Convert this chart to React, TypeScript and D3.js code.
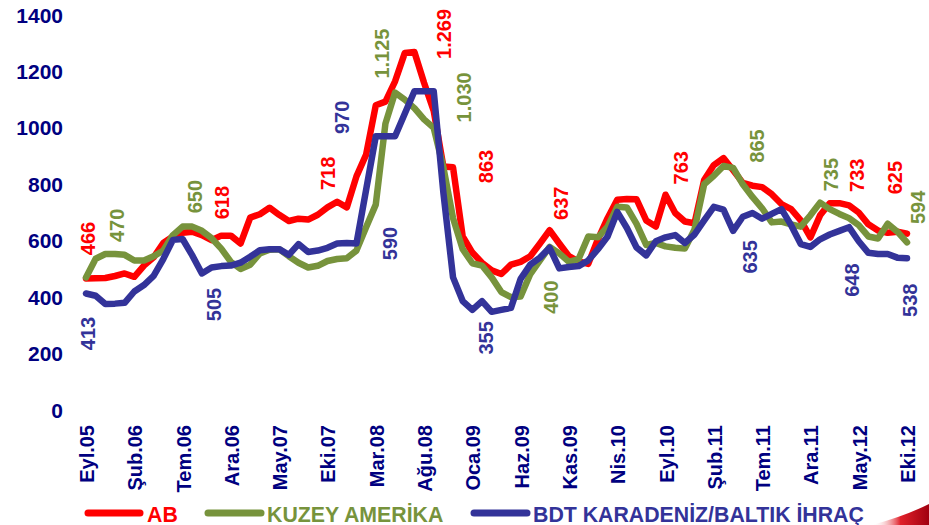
import React from "react";
import * as d3 from "d3";

// ---- categories (monthly, Eyl.05 .. Eki.12) ----
const MONTHS_TR = ["Oca", "Şub", "Mar", "Nis", "May", "Haz", "Tem", "Ağu", "Eyl", "Eki", "Kas", "Ara"];
const START_MONTH = 8; // Eylül
const START_YEAR = 2005;
const N = 86;
const categories: string[] = d3.range(N).map((i) => {
  const m = (START_MONTH + i) % 12;
  const y = START_YEAR + Math.floor((START_MONTH + i) / 12);
  return `${MONTHS_TR[m]}.${String(y % 100).padStart(2, "0")}`;
});
const TICK_EVERY = 5;
const yTicks = [0, 200, 400, 600, 800, 1000, 1200, 1400];

// ---- series values ----
const ab = [
  466, 467, 468, 475, 484, 472, 512, 541, 592, 615,
  628, 632, 620, 602, 618, 618, 590, 682, 694, 717,
  692, 670, 678, 675, 692, 718, 738, 718, 828, 905,
  1080, 1093, 1165, 1265, 1269, 1160, 1060, 863, 860, 615,
  558, 522, 495, 482, 515, 525, 545, 590, 637, 590,
  545, 527, 518, 605, 680, 745, 748, 747, 672, 650,
  763, 698, 668, 662, 815, 868, 893, 850, 805, 795,
  790, 765, 730, 712, 672, 612, 690, 733, 733, 725,
  700, 658, 636, 628, 632, 625,
];
const kuzeyAmerika = [
  470, 536, 553, 553, 550, 530, 530, 545, 565, 620,
  650, 650, 635, 609, 572, 525, 500, 515, 555, 568,
  570, 545, 522, 505, 511, 528, 535, 538, 565, 648,
  728, 1015, 1125, 1100, 1070, 1030, 1000, 860, 680, 570,
  520, 512, 470, 418, 400, 402, 482, 530, 578, 555,
  525, 535, 615, 612, 650, 720, 718, 660, 585, 592,
  580, 575, 572, 640, 800, 830, 865, 858, 800, 755,
  715, 665, 668, 658, 650, 690, 735, 712, 695, 680,
  655, 615, 608, 660, 632, 594,
];
const bdt = [
  413, 405, 376, 377, 380, 420, 443, 475, 535, 603,
  606, 548, 484, 505, 510, 512, 522, 543, 566, 570,
  570, 550, 588, 560, 565, 575, 590, 592, 590, 780,
  970, 970, 970, 1050, 1130, 1130, 1130, 770, 470, 386,
  355, 386, 348, 355, 362, 465, 515, 540, 575, 502,
  507, 510, 530, 570, 615, 702, 645, 576, 548, 598,
  612, 620, 592, 622, 672, 720, 710, 635, 685, 698,
  678, 695, 712, 655, 588, 578, 605, 622, 635, 648,
  598, 557, 553, 553, 540, 538,
];

// indices of labelled points per series
const abLabelIdx = [0, 14, 25, 34, 37, 48, 60, 78, 85];
const kaLabelIdx = [0, 10, 32, 35, 44, 66, 76, 85];
const bdtLabelIdx = [0, 13, 28, 30, 40, 67, 79, 85];

// label offsets (px) relative to their points
const abLabelOff = [[2, -40], [1, -33], [0, -34], [29, -18], [42, 0], [11, -27], [15, -27], [17, -28], [-12, -56]];
const kaLabelOff = [[31, -52], [12, -30], [-13, -39], [40, -22], [40, 0], [33, -20], [11, -28], [11, -35]];
const bdtLabelOff = [[2, 40], [2, 37], [33, 0], [-34, -19], [13, 28], [17, 26], [3, 53], [3, 42]];

const seriesNames = ["AB", "KUZEY AMERİKA", "BDT KARADENİZ/BALTIK İHRAÇ"];
const seriesColors = ["#FF0000", "#77933C", "#333399"];

const W = 929;
const H = 525;
const FONT = "'Liberation Sans', Arial, sans-serif";
const AXIS_COLOR = "#000080";

const trFormat = d3.formatLocale({
  decimal: ",",
  thousands: ".",
  grouping: [3],
  currency: ["", " TL"],
}).format(",d");

export default function App() {
  const x = d3.scaleLinear().domain([0, N - 1]).range([86, 907]);
  const y = d3.scaleLinear().domain([0, 1400]).range([410, 15]);

  const line = d3
    .line<number>()
    .x((_, i) => x(i))
    .y((d) => y(d))
    .curve(d3.curveLinear);

  const series = [
    { name: seriesNames[0], color: seriesColors[0], values: ab, idx: abLabelIdx, off: abLabelOff },
    { name: seriesNames[1], color: seriesColors[1], values: kuzeyAmerika, idx: kaLabelIdx, off: kaLabelOff },
    { name: seriesNames[2], color: seriesColors[2], values: bdt, idx: bdtLabelIdx, off: bdtLabelOff },
  ];

  const tickIdx = d3.range(0, N, TICK_EVERY);

  // legend layout
  const legendY = 513;
  const legendItems = [
    { x0: 88, x1: 140, tx: 147 },
    { x0: 208, x1: 261, tx: 267 },
    { x0: 474, x1: 527, tx: 533 },
  ];

  return (
    <svg
      width={W}
      height={H}
      viewBox={`0 0 ${W} ${H}`}
      style={{ position: "absolute", left: 0, top: 0, background: "#fff" }}
      fontFamily={FONT}
    >
      <defs>
        <linearGradient id="swoosh" x1="0" y1="0" x2="1" y2="0">
          <stop offset="0" stopColor="#ffffff" stopOpacity="0" />
          <stop offset="0.5" stopColor="#e0202a" />
          <stop offset="1" stopColor="#a00010" />
        </linearGradient>
      </defs>
      <rect width={W} height={H} fill="#fff" />

      {/* y axis labels */}
      {yTicks.map((t) => (
        <text
          key={t}
          x={63}
          y={y(t)}
          textAnchor="end"
          dominantBaseline="central"
          fontSize={21}
          fontWeight="bold"
          fill={AXIS_COLOR}
        >
          {t}
        </text>
      ))}

      {/* x axis labels */}
      {tickIdx.map((i) => (
        <text
          key={i}
          transform={`translate(${x(i) + 8},425) rotate(-90)`}
          textAnchor="end"
          fontSize={20}
          fontWeight="bold"
          fill={AXIS_COLOR}
        >
          {categories[i]}
        </text>
      ))}

      {/* lines */}
      {series.map((s) => (
        <path
          key={s.name}
          d={line(s.values) || ""}
          fill="none"
          stroke={s.color}
          strokeWidth={6.5}
          strokeLinejoin="round"
          strokeLinecap="round"
        />
      ))}

      {/* data labels */}
      {series.map((s) =>
        s.idx.map((i, k) => (
          <text
            key={s.name + i}
            transform={`translate(${x(i) + s.off[k][0]},${y(s.values[i]) + s.off[k][1]}) rotate(-90)`}
            textAnchor="middle"
            dy="0.36em"
            fontSize={20}
            fontWeight="bold"
            fill={s.color}
          >
            {trFormat(s.values[i])}
          </text>
        ))
      )}

      {/* legend */}
      {series.map((s, k) => (
        <g key={"lg" + s.name}>
          <line
            x1={legendItems[k].x0}
            x2={legendItems[k].x1}
            y1={legendY}
            y2={legendY}
            stroke={s.color}
            strokeWidth={7}
            strokeLinecap="round"
          />
          <text
            x={legendItems[k].tx}
            y={legendY + 8.5}
            fontSize={21.3}
            fontWeight="bold"
            fill={s.color}
          >
            {s.name}
          </text>
        </g>
      ))}

      {/* decorative swoosh bottom-right */}
      <path d="M 872 525 Q 905 516 929 504 L 929 525 Z" fill="url(#swoosh)" />
    </svg>
  );
}
